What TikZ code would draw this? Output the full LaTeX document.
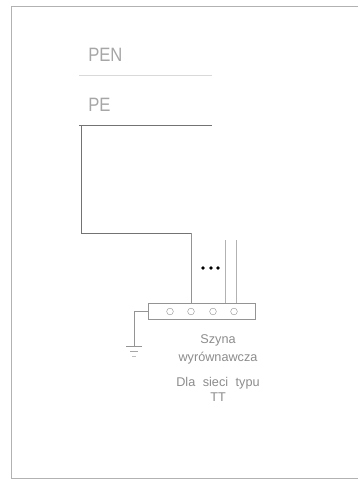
\documentclass[tikz,border=0pt]{standalone}
\usepackage{fontspec}
\setmainfont{Liberation Sans}
\newfontfamily\narrowfont[FakeStretch=0.86]{Liberation Sans}
\tikzset{
    wire/.style={draw=black!55,line width=0.5pt},
    buswire/.style={draw=black!42,line width=0.5pt},
    lightwire/.style={draw=black!30,line width=0.7pt},
    label/.style={text=black!45,inner sep=0pt,font=\fontsize{9.5}{10}\selectfont},
    biglabel/.style={text=black!35,inner sep=0pt,font=\narrowfont\fontsize{14.5}{15}\selectfont},
    terminal/.style={circle,draw=black!45,line width=0.3pt,minimum size=5pt,inner sep=0pt},
    dot/.style={circle,fill=black,minimum size=2.8pt,inner sep=0pt}
}
\begin{document}
\begin{tikzpicture}[x=0.75pt,y=-0.75pt]
        \useasboundingbox(0,0)rectangle(358,479);
        % sheet border
        \draw[lightwire](358,6.5)--(11.5,6.5)--(11.5,478)--(358,478);
        % conductors
        \node[biglabel,anchor=west](pen)at(88,55){PEN};
        \node[biglabel,anchor=west](pe)at(88,105){PE};
        \draw[draw=black!15,line width=0.8pt](79,75.5)--(212,75.5);
        \draw[wire](79,125.5)--(212,125.5);
        % bus bar
        \node[buswire,minimum width=80.25pt,minimum height=12pt,inner sep=0pt](bus)at(201.5,311){};
        \foreach \x/\name in {170/a,191/b,213/c,234/d}{
            \node[terminal](\name)at(\x,311.5){};
        }
        \coordinate(start)at(81.5,125.5);
        \coordinate(bend)at(81.5,233);
        \coordinate(corner)at(191,233);
        \draw[wire](start)--(bend)--(corner);
        \draw[buswire](corner)--(bus.north-|b);
        \foreach \x/\name in {225/p,236/q}{
            \coordinate(\name)at(\x,240);
            \draw[lightwire](\name)--(\name|-bus.north);
        }
        \foreach \x/\name in {203/e,211/f,218/g}{
            \node[dot](\name)at(\x,268){};
        }
        % earth
        \coordinate(earth)at(134,346);
        \draw[buswire](bus.west|-a)-|(earth);
        \draw[buswire](126,346)--(142,346);
        \draw[draw=black!35,line width=0.4pt](130,351)--(138,351);
        \draw[draw=black!25,line width=0.4pt](132,356)--(136,356);
        % text
        \node[label](szyna)at(218,340){Szyna};
        \node[label](wyr)at(218,358){wyrównawcza};
        \node[label](dla)at(218,383){Dla\hspace{3pt} sieci\hspace{3pt} typu};
        \node[label](tt)at(218,397){TT};
    \end{tikzpicture}
\end{document}
